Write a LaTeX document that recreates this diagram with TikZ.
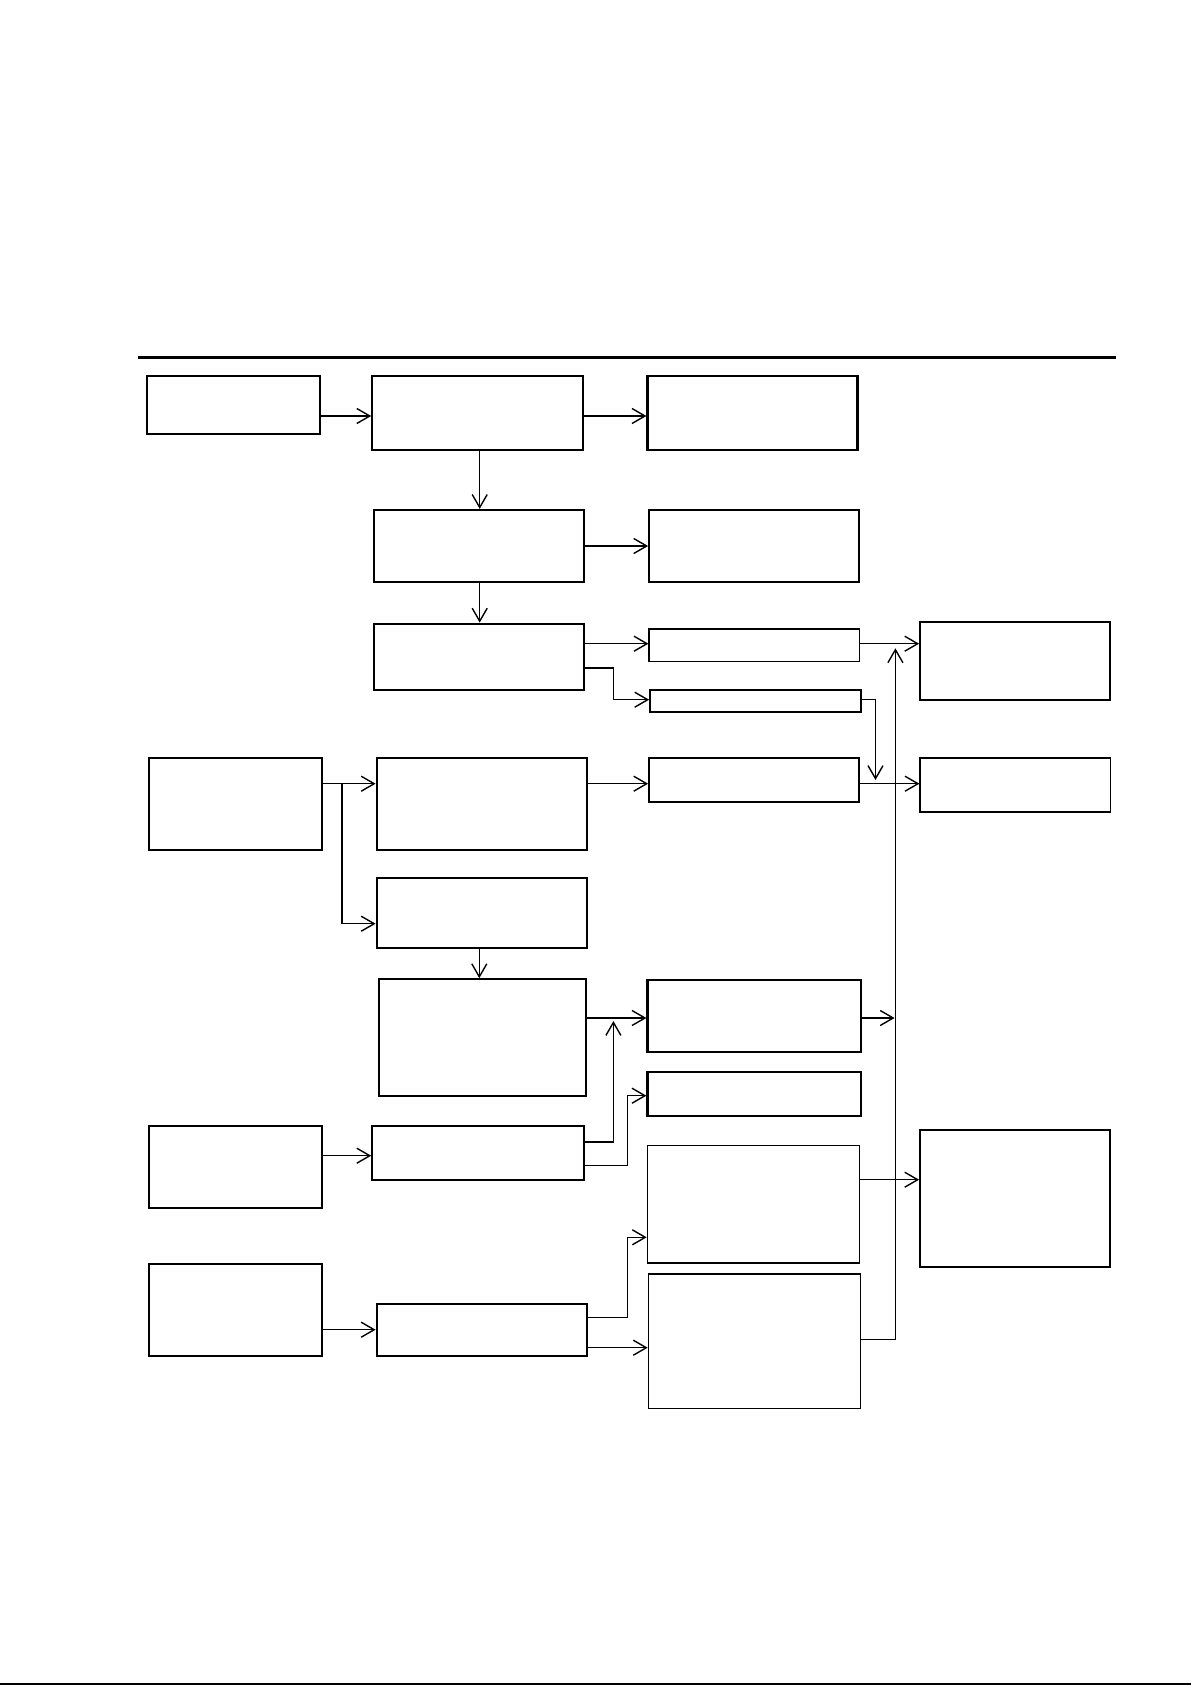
\documentclass[tikz,border=0pt]{standalone}
\usetikzlibrary{arrows.meta,fit}
\begin{document}
\begin{tikzpicture}[x=0.5pt,y=-0.5pt,
  box/.style={draw=black,line width=1.1pt,inner sep=0pt,rectangle},
  tbox/.style={draw=black,line width=0.8pt,inner sep=0pt,rectangle},
  conn/.style={draw=black,line width=0.7pt,-{Straight Barb[length=6.5pt,width=7.5pt]}},
  plain/.style={draw=black,line width=0.7pt}]
\useasboundingbox (0,0) rectangle (1191,1685);
\fill[white] (0,0) rectangle (1191,1685);
% header and bottom rules
\draw[line width=1.4pt] (138,357.3) -- (1116,357.3);
\draw[line width=0.8pt] (0,1684) -- (1191,1684);
% boxes
\node[box,fit={(147.3,375.7) (320,434)}] (L1) {};
\node[box,fit={(372.3,375.7) (582.7,450)}] (M1) {};
\node[box,fit={(647.5,375.7) (857.5,450)}] (R1) {};
\node[box,fit={(374.3,510) (584.3,582)}] (M2) {};
\node[box,fit={(649.2,510) (859.3,582)}] (R2) {};
\node[box,fit={(374.3,623.7) (584.3,690)}] (M3) {};
\node[tbox,fit={(649.2,628.7) (859.3,661.3)}] (T1) {};
\node[box,fit={(650.2,689.7) (860.6,712)}] (T2) {};
\node[box,fit={(920.2,621.7) (1110.3,700)}] (A) {};
\node[box,fit={(149.3,757.7) (322.3,850)}] (L2) {};
\node[box,fit={(376.7,757.7) (587.3,850)}] (M4) {};
\node[box,fit={(649.2,757.7) (859.3,802)}] (R4) {};
\node[tbox,fit={(920.2,757.7) (1110.3,812)}] (B) {};
\node[box,fit={(376.7,877.7) (587.3,948)}] (M5) {};
\node[box,fit={(378.7,979.3) (586.3,1096)}] (M6) {};
\node[box,fit={(647.5,979.7) (860.6,1051.7)}] (C1) {};
\node[box,fit={(647.5,1072) (860.6,1115.7)}] (C2) {};
\node[box,fit={(149.3,1125.7) (322.3,1207.7)}] (L3) {};
\node[box,fit={(372.3,1125.7) (584.3,1180)}] (M7) {};
\node[tbox,fit={(647.5,1145.3) (859.3,1262.7)}] (C3) {};
\node[box,fit={(920.2,1129.7) (1110.3,1266.7)}] (D) {};
\node[box,fit={(149.3,1263.7) (322.3,1356)}] (L4) {};
\node[box,fit={(376.7,1303.7) (587,1356)}] (M8) {};
\node[tbox,fit={(648.5,1273.7) (860.6,1408.3)}] (C4) {};
% free ends of connectors
\coordinate (j1) at (875.5,780);
\coordinate (j2) at (613.4,1021);
\coordinate (j3) at (895.4,648.3);
\coordinate (j4) at (894.6,1018);
% connectors
\draw[conn] (L1.east |- 0,416) -- (M1.west |- 0,416);
\draw[conn] (M1.east |- 0,416) -- (R1.west |- 0,416);
\draw[conn] (479.7,0 |- M1.south) -- (479.7,0 |- M2.north);
\draw[conn] (M2.east |- 0,546) -- (R2.west |- 0,546);
\draw[conn] (479.7,0 |- M2.south) -- (479.7,0 |- M3.north);
\draw[conn] (M3.east |- 0,643.7) -- (T1.west |- 0,643.7);
\draw[conn] (M3.east |- 0,668) -- (613.4,668) -- (613.4,699.7) -- (T2.west |- 0,699.7);
\draw[conn] (T1.east |- 0,643.7) -- (A.west |- 0,643.7);
\draw[conn] (T2.east |- 0,699.7) -- (875.5,699.7) -- (j1);
\draw[conn] (L2.east |- 0,783.7) -- (M4.west |- 0,783.7);
\draw[conn] (342,783.7) -- (342,923.7) -- (M5.west |- 0,923.7);
\draw[conn] (M4.east |- 0,783.7) -- (R4.west |- 0,783.7);
\draw[conn] (R4.east |- 0,783.7) -- (B.west |- 0,783.7);
\draw[conn] (479.3,0 |- M5.south) -- (479.3,0 |- M6.north);
\draw[conn] (M6.east |- 0,1018) -- (C1.west |- 0,1018);
\draw[conn] (M7.east |- 0,1142) -- (613.4,1142) -- (j2);
\draw[conn] (M7.east |- 0,1165.7) -- (627.2,1165.7) -- (627.2,1095.7) -- (C2.west |- 0,1095.7);
\draw[conn] (L3.east |- 0,1155.7) -- (M7.west |- 0,1155.7);
\draw[conn] (L4.east |- 0,1329.7) -- (M8.west |- 0,1329.7);
\draw[conn] (M8.east |- 0,1317.7) -- (627.2,1317.7) -- (627.2,1237.3) -- (C3.west |- 0,1237.3);
\draw[conn] (M8.east |- 0,1347.7) -- (C4.west |- 0,1347.7);
\draw[conn] (C4.east |- 0,1339.3) -- (895.4,1339.3) -- (j3);
\draw[conn] (C1.east |- 0,1018) -- (j4);
\draw[conn] (C3.east |- 0,1179.7) -- (D.west |- 0,1179.7);
\end{tikzpicture}
\end{document}
